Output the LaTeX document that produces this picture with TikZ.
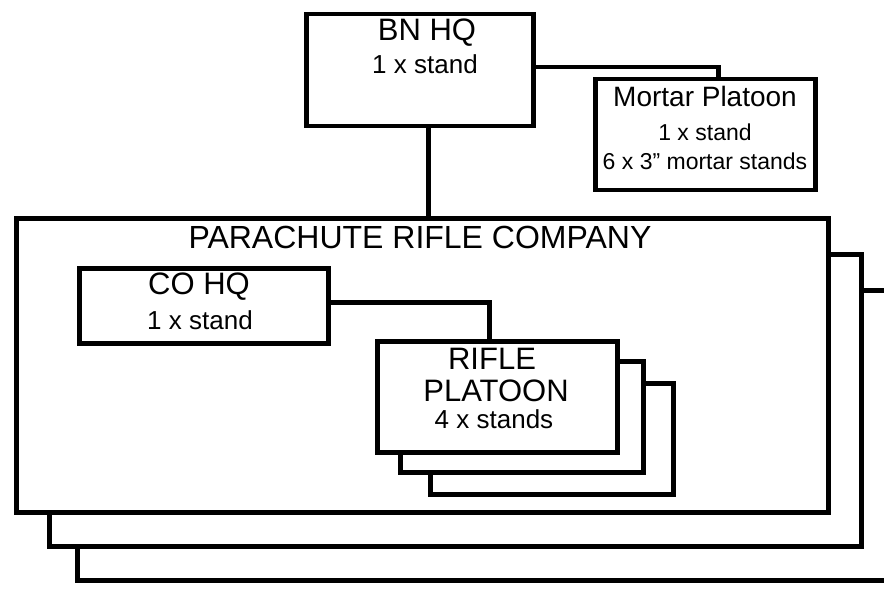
\documentclass[tikz,border=0pt]{standalone}
\usepackage{fontspec}
\setmainfont{Liberation Sans}
\begin{document}
\begin{tikzpicture}[x=1pt,y=-1pt,
  box/.style={draw=black, line width=4.5pt, fill=white, inner sep=0pt, rectangle},
  conn/.style={draw=black, line width=4.5pt},
  ttl/.style={anchor=base, inner sep=0pt, font=\fontsize{31}{37}\selectfont},
  sub/.style={anchor=base, inner sep=0pt, font=\fontsize{26}{31}\selectfont}]
\path[fill=white, use as bounding box] (0,0) rectangle (884,615);

% company stack
\node[box, minimum width=830pt, minimum height=290pt, anchor=north west] (co3) at (75,288) {};
\node[box, minimum width=812pt, minimum height=292pt, anchor=north west] (co2) at (47,252) {};
\node[box, minimum width=812pt, minimum height=294pt, anchor=north west] (co1) at (14,216) {};
\node[ttl, font=\fontsize{32}{38}\selectfont] (cotitle) at (420,248) {PARACHUTE RIFLE COMPANY};

% BN HQ
\node[box, minimum width=227pt, minimum height=112pt, anchor=north west] (bn) at (304,12) {};
\node[ttl] (bnt) at (427,41) {BN HQ};
\node[sub] (bns) at (425,74) {1 x stand};

% Mortar platoon
\node[box, minimum width=220pt, minimum height=111pt, anchor=north west] (mor) at (593,77) {};
\node[ttl, font=\fontsize{28}{34}\selectfont] (mort) at (705,107) {Mortar Platoon};
\node[sub, font=\fontsize{23}{28}\selectfont] (mors) at (705,141) {1 x stand};
\node[sub, font=\fontsize{23}{28}\selectfont] (mors2) at (705,170) {6 x 3” mortar stands};

% CO HQ
\node[box, minimum width=249pt, minimum height=75pt, anchor=north west] (cohq) at (77,266) {};
\node[ttl] (cohqt) at (199,294) {CO HQ};
\node[sub] (cohqs) at (200,329) {1 x stand};

% Rifle platoon stack
\node[box, minimum width=243pt, minimum height=111pt, anchor=north west] (rp3) at (428,381) {};
\node[box, minimum width=243pt, minimum height=111pt, anchor=north west] (rp2) at (398,359) {};
\node[box, minimum width=240pt, minimum height=111pt, anchor=north west] (rp1) at (375,339) {};
\node[ttl] (rpt1) at (492,369) {RIFLE};
\node[ttl] (rpt2) at (496,401) {PLATOON};
\node[sub] (rps) at (494,428) {4 x stands};

% connectors
\draw[conn] ([xshift=-1pt,yshift=3pt]bn.east) -| ([xshift=13pt]mor.north);
\draw[conn] ([xshift=8.5pt]bn.south) -- ([xshift=8.5pt]bn.south |- co1.north);
\draw[conn] ([yshift=3.5pt]cohq.east) -| ([xshift=-8pt]rp1.north);
\end{tikzpicture}
\end{document}
